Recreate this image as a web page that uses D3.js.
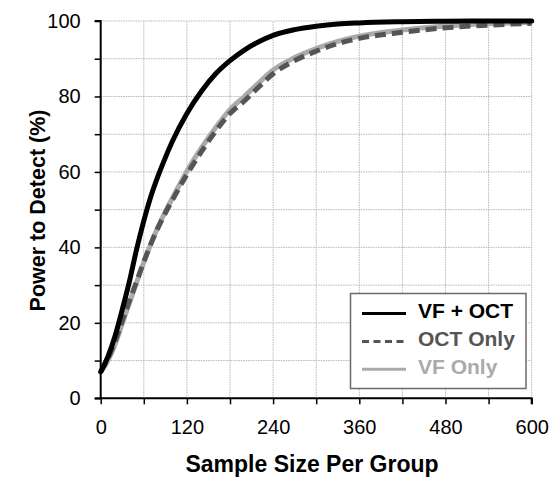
<!DOCTYPE html>
<html>
<head>
<meta charset="utf-8">
<script src="https://cdn.jsdelivr.net/npm/d3@7"></script>
<style>
  html, body { margin: 0; padding: 0; background: #fff; }
  svg { display: block; font-family: "Liberation Sans", Arial, sans-serif; }
</style>
</head>
<body>
<svg id="chart" width="551" height="477"></svg>
<script>
// ---- data ----
const sampleSize = [0,10,20,30,40,50,60,70,80,90,100,120,140,160,180,200,220,240,270,300,330,360,420,480,540,600];
const vfOct   = [7,11,16.5,23.5,31,39.5,47,53.6,59,63.8,68.2,75.5,81.3,86,89.5,92.3,94.5,96.2,97.7,98.6,99.2,99.5,99.8,99.95,100,100];
const octOnly = [7,10.5,15,20.5,25.8,31,36.2,41,45.3,49.1,52.6,59.3,65.3,70.8,75.5,78.8,82.5,86,89.5,92,94,95.4,97,98.2,98.9,99.4];
const vfOnly  = [7,10,14.3,19.8,25.3,30.7,36,41,45.5,49.5,53.1,60.2,66.3,71.7,76.5,80,83.6,87,90.3,92.7,94.6,96,97.6,98.7,99.3,99.6];
const xTicks = [0,60,120,180,240,300,360,420,480,540,600];
const xLabels = [0,120,240,360,480,600];
const yTicks = [0,10,20,30,40,50,60,70,80,90,100];
const yLabels = [0,20,40,60,80,100];
const seriesNames = ["VF + OCT","OCT Only","VF Only"];

// ---- layout ----
const W = 551, H = 477;
const m = {left: 100.7, right: 19.3, top: 21, bottom: 78.7};
const svg = d3.select("#chart");
const x = d3.scaleLinear().domain([0,600]).range([m.left, W - m.right]);
const y = d3.scaleLinear().domain([0,100]).range([H - m.bottom, m.top]);

// grid
const grid = svg.append("g");
grid.selectAll("line.gx").data(xTicks.filter(d => d > 0)).join("line")
  .attr("x1", d => x(d)).attr("x2", d => x(d))
  .attr("y1", y(0)).attr("y2", y(100))
  .attr("stroke", "#b5b5b5").attr("stroke-width", 1).attr("stroke-dasharray", "1.5,1");
grid.selectAll("line.gy").data(yTicks.filter(d => d > 0)).join("line")
  .attr("x1", x(0)).attr("x2", x(600))
  .attr("y1", d => y(d)).attr("y2", d => y(d))
  .attr("stroke", "#b5b5b5").attr("stroke-width", 1).attr("stroke-dasharray", "1.5,1");

// lines
const line = (vals) => d3.line()
  .x((d,i) => x(sampleSize[i]))
  .y(d => y(d))
  .curve(d3.curveMonotoneX)(vals);

svg.append("path").attr("d", line(vfOnly))
  .attr("fill","none").attr("stroke","#aaaaaa").attr("stroke-width",5);
svg.append("path").attr("d", line(octOnly))
  .attr("fill","none").attr("stroke","#555555").attr("stroke-width",5)
  .attr("stroke-dasharray","11,6");
svg.append("path").attr("d", line(vfOct))
  .attr("fill","none").attr("stroke","#000").attr("stroke-width",5)
  .attr("stroke-linecap","round");

// axes
const yAxis = d3.axisLeft(y).tickValues(yTicks).tickSize(6).tickPadding(14)
  .tickFormat(d => yLabels.includes(d) ? d : "");
const gy = svg.append("g").attr("transform", `translate(${x(0)},0)`).call(yAxis);
gy.select(".domain").attr("stroke","#000").attr("stroke-width",2).attr("d", `M-6,${y(100)}H0V${y(0)}`);
gy.selectAll(".tick line").attr("stroke","#000").attr("stroke-width",1.5);
gy.selectAll(".tick text").attr("font-size",20).attr("fill","#000")
  .attr("font-family","'Liberation Sans', Arial, sans-serif");

const xAxis = d3.axisBottom(x).tickValues(xTicks).tickSize(6).tickPadding(16)
  .tickFormat(d => xLabels.includes(d) ? d : "");
const gx = svg.append("g").attr("transform", `translate(0,${y(0)})`).call(xAxis);
gx.select(".domain").attr("stroke","#000").attr("stroke-width",2).attr("d", `M${x(0)-6},0H${x(600)}V6`);
gx.selectAll(".tick line").attr("stroke","#000").attr("stroke-width",1.5);
gx.selectAll(".tick text").attr("font-size",20).attr("fill","#000")
  .attr("font-family","'Liberation Sans', Arial, sans-serif");

// axis titles
svg.append("text")
  .attr("x", 312).attr("y", 471.5)
  .attr("text-anchor","middle").attr("font-weight","bold").attr("font-size",23)
  .text("Sample Size Per Group");
svg.append("text")
  .attr("transform", `translate(45,210.5) rotate(-90)`)
  .attr("text-anchor","middle").attr("font-weight","bold").attr("font-size",21.5)
  .text("Power to Detect (%)");

// legend
const lg = svg.append("g");
lg.append("rect").attr("x",350.5).attr("y",293.5).attr("width",175.5).attr("height",95)
  .attr("fill","#fff").attr("stroke","#6a6a6a").attr("stroke-width",1.5);
const legColors = ["#000","#555555","#aaaaaa"];
const legDash = [null,"7,4.5",null];
seriesNames.forEach((name,i) => {
  const yy = 313.5 + i*27.9;
  lg.append("line").attr("x1",362).attr("x2",406).attr("y1",yy).attr("y2",yy)
    .attr("stroke",legColors[i]).attr("stroke-width",3)
    .attr("stroke-dasharray",legDash[i]);
  lg.append("text").attr("x",418).attr("y",yy+4.5)
    .attr("font-size",21).attr("font-weight","bold").attr("fill",legColors[i])
    .text(name);
});
</script>
</body>
</html>
